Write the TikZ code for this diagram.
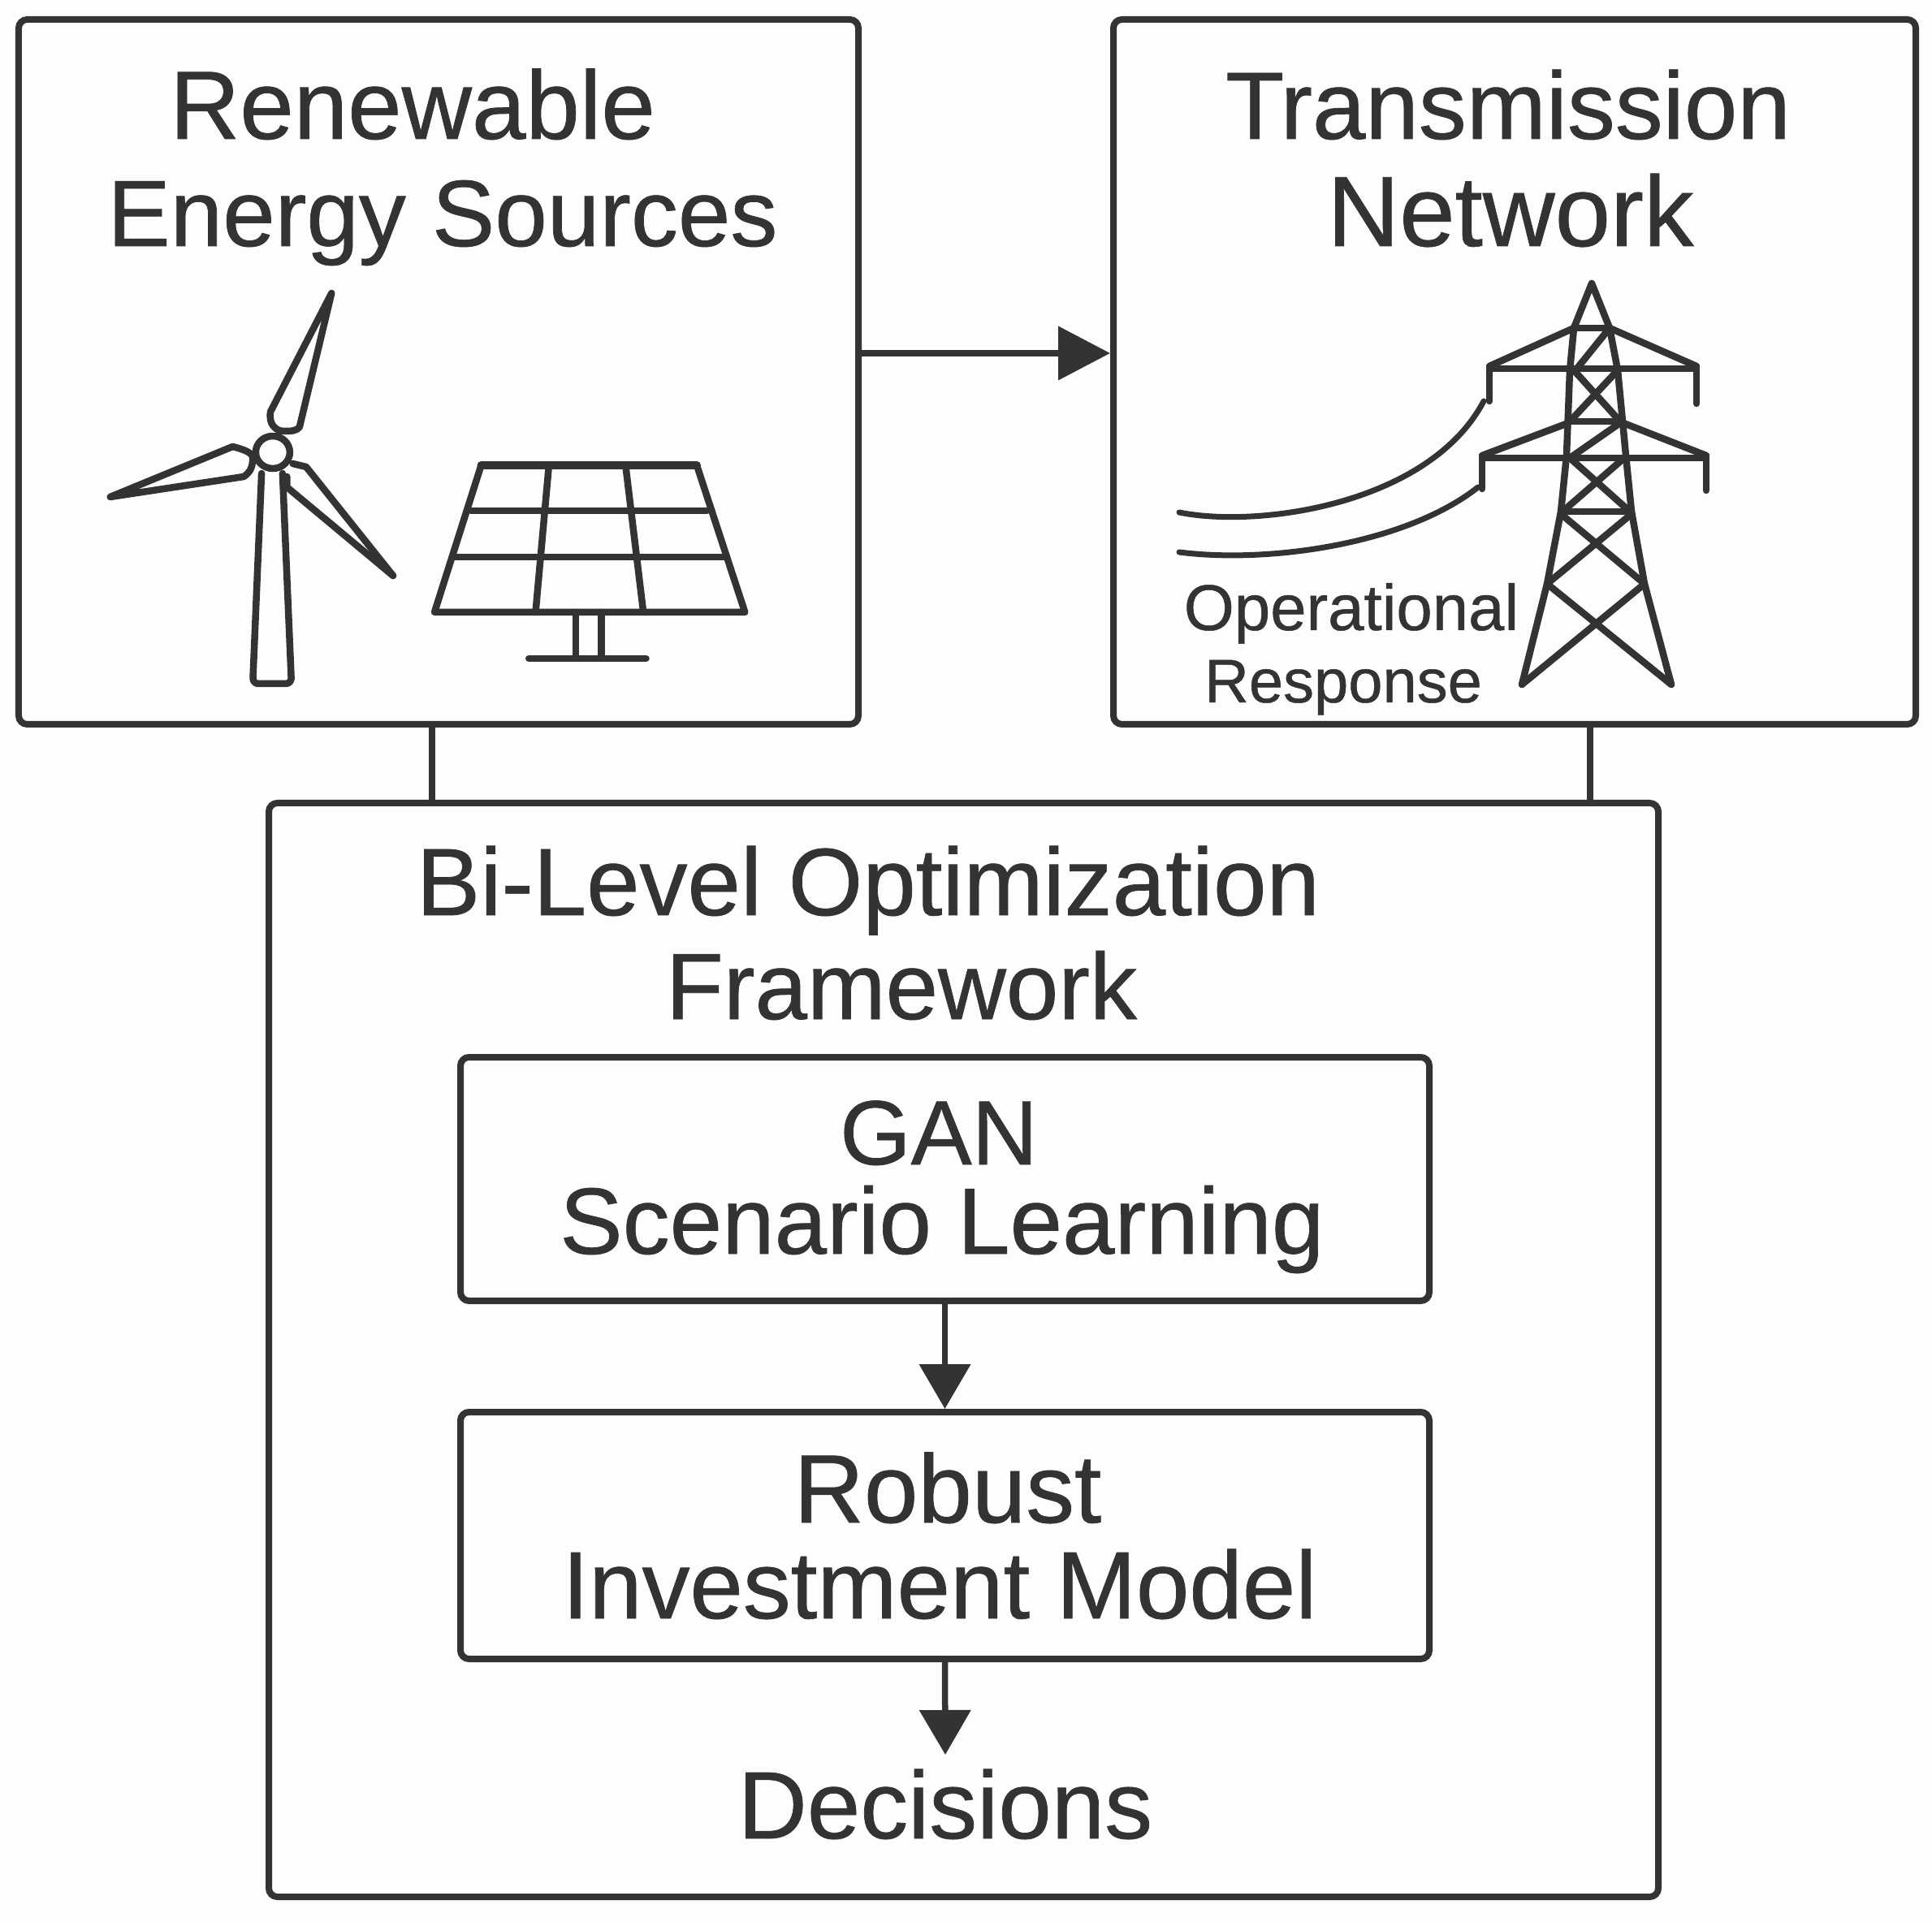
\documentclass[tikz,border=0pt]{standalone}
\usepackage{fontspec}
\setmainfont[FakeBold=0.6]{Liberation Sans}
\usepackage{xcolor}
\definecolor{gridink}{RGB}{51,51,51}
\definecolor{gridpaper}{RGB}{253,253,253}
\usetikzlibrary{arrows.meta, positioning, calc}
\tikzset{
  panel/.style={draw=gridink, line width=0.08cm, rounded corners=3pt, inner sep=0pt},
  headtext/.style={text=gridink, anchor=base, inner sep=0pt, font=\fontsize{#1}{36}\selectfont},
  headtext/.default=33.5,
  smalltext/.style={text=gridink, anchor=base, inner sep=0pt, font=\fontsize{#1}{25}\selectfont},
  smalltext/.default=22.7,
  link/.style={draw=gridink, line width=0.075cm},
  flow/.style={link, -{Triangle[length=0.55cm, width=0.62cm]}},
  icon/.style={draw=gridink, line width=0.085cm, line join=round, line cap=round},
  wire/.style={draw=gridink, line width=0.07cm, line cap=round}
}

\begin{document}
\begin{tikzpicture}
  \fill[gridpaper] (0,0) rectangle (23.79,23.66);
  \useasboundingbox (0,0) rectangle (23.79,23.66);

  % --- Top boxes ---
  \node[panel, minimum width=10.34cm, minimum height=8.68cm] (renew) at (5.40,19.08) {};
  \node[panel, minimum width=9.88cm, minimum height=8.68cm] (trans) at (18.65,19.08) {};
  \node[headtext=34] (renewa) at (5.08,21.95) {Renewable};
  \node[headtext=33] (renewb) at (5.45,20.63) {Energy Sources};
  \node[headtext] (transa) at (18.57,21.95) {Transmission};
  \node[headtext=35] (transb) at (18.60,20.63) {Network};
  \node[smalltext] (opera) at (16.64,15.90) {Operational};
  \node[smalltext=21.6] (operb) at (16.54,15.01) {Response};

  % --- Framework box ---
  \node[panel, minimum width=17.11cm, minimum height=13.47cm] (frame) at (11.865,7.035) {};
  \node[headtext] (framea) at (10.69,12.39) {Bi-Level Optimization};
  \node[headtext=33] (frameb) at (11.10,11.11) {Framework};
  \node[panel, minimum width=11.93cm, minimum height=3.0cm] (gan) at (11.635,9.14) {};
  \node[headtext=32] (gana) at (11.56,9.32) {GAN};
  \node[headtext=33] (ganb) at (11.60,8.22) {Scenario Learning};
  \node[panel, minimum width=11.93cm, minimum height=3.04cm] (robust) at (11.635,4.75) {};
  \node[headtext=34] (robusta) at (11.67,4.91) {Robust};
  \node[headtext] (robustb) at (11.57,3.73) {Investment Model};
  \node[headtext, inner sep=0.17cm] (decisions) at (11.64,1.02) {Decisions};

  % Connectors
  \coordinate (tapr) at (0,19.31);
  \coordinate (tapl) at (5.32,0);
  \coordinate (tapt) at (19.58,0);
  \draw[flow, -{Triangle[length=0.64cm, width=0.65cm]}] (renew.east |- tapr) -- (trans.west |- tapr);
  \draw[link] (tapl |- renew.south) -- (tapl |- frame.north);
  \draw[link] (tapt |- trans.south) -- (tapt |- frame.north);
  \draw[flow] (gan.south) -- (robust.north);
  \draw[flow] (robust.south) -- (decisions.north);

  % --- Wind turbine ---
  \draw[icon, rounded corners=2pt] (3.221,17.83) -- (3.112,15.24) -- (3.589,15.24) -- (3.479,17.83);
  \draw[icon] (3.359,18.09) ellipse (0.21 and 0.20);
  \draw[icon] (4.083,20.05) -- (3.331,18.59) .. controls (3.304,18.43) and (3.40,18.35) .. (3.496,18.35)
    .. controls (3.58,18.35) and (3.65,18.35) .. (3.688,18.40) -- cycle;
  \draw[icon] (1.357,17.54) -- (2.865,18.16) .. controls (3.02,18.12) and (3.112,18.08) .. (3.112,18.02)
    .. controls (3.112,17.92) and (3.09,17.85) .. (3.002,17.79) -- cycle;
  \draw[icon] (4.840,16.57) -- (3.770,17.91) -- (3.605,17.95);
  \draw[icon] (4.840,16.57) -- (3.534,17.66) -- (3.534,17.79);

  % --- Solar panel ---
  \draw[icon] (5.925,17.93) -- (8.580,17.93) -- (9.173,16.12) -- (5.350,16.12) -- cycle;
  \draw[icon, line width=0.1cm] (5.925,17.93) -- (8.580,17.93);
  \draw[icon] (5.799,17.37) -- (8.706,17.37);
  \draw[icon] (5.596,16.80) -- (8.926,16.80);
  \draw[icon] (6.759,17.93) -- (6.595,16.12);
  \draw[icon] (7.703,17.93) -- (7.922,16.12);
  \draw[icon] (7.088,16.12) -- (7.088,15.55);
  \draw[icon] (7.406,16.12) -- (7.406,15.55);
  \draw[icon] (6.512,15.55) -- (7.955,15.55);

  % --- Pylon ---
  \draw[icon] (18.74,15.23) -- (19.05,16.47) -- (19.22,17.36) -- (19.29,18.05) -- (19.33,19.10) -- (19.38,19.62)
    -- (19.60,20.17) -- (19.82,19.62) -- (19.92,19.10) -- (20.02,18.05) -- (20.09,17.36) -- (20.25,16.47) -- (20.58,15.23);
  % arms
  \draw[icon] (18.34,18.72) -- (18.34,19.12) -- (20.89,19.12) -- (20.89,18.69);
  \draw[icon] (19.38,19.62) -- (18.34,19.15);
  \draw[icon] (19.82,19.62) -- (20.89,19.15);
  \draw[icon] (19.38,19.62) -- (19.82,19.62);
  \draw[icon] (18.25,17.64) -- (18.25,18.02) -- (21.01,18.02) -- (21.01,17.62);
  \draw[icon] (19.31,18.45) -- (18.25,18.05);
  \draw[icon] (19.99,18.45) -- (21.01,18.05);
  \draw[icon] (19.33,18.47) -- (19.95,18.47);
  \draw[icon] (19.22,17.36) -- (20.09,17.36);
  % bracing
  \draw[icon] (19.82,19.62) -- (19.40,19.10);
  \draw[icon] (19.38,19.10) -- (19.95,18.47);
  \draw[icon] (19.92,19.10) -- (19.33,18.47);
  \draw[icon] (19.92,18.43) -- (19.33,18.02);
  \draw[icon] (19.33,18.02) -- (20.07,17.36);
  \draw[icon] (20.00,18.02) -- (19.24,17.36);
  \draw[icon] (19.22,17.33) -- (20.25,16.47);
  \draw[icon] (20.09,17.33) -- (19.05,16.47);
  \draw[icon] (19.05,16.47) -- (20.58,15.23);
  \draw[icon] (20.25,16.47) -- (18.74,15.23);
  % cables
  \draw[wire] (14.52,17.35) .. controls (15.5,17.15) and (17.6,17.45) .. (18.27,18.72);
  \draw[wire] (14.52,16.86) .. controls (15.6,16.72) and (17.3,16.95) .. (18.20,17.66);
\end{tikzpicture}
\end{document}
